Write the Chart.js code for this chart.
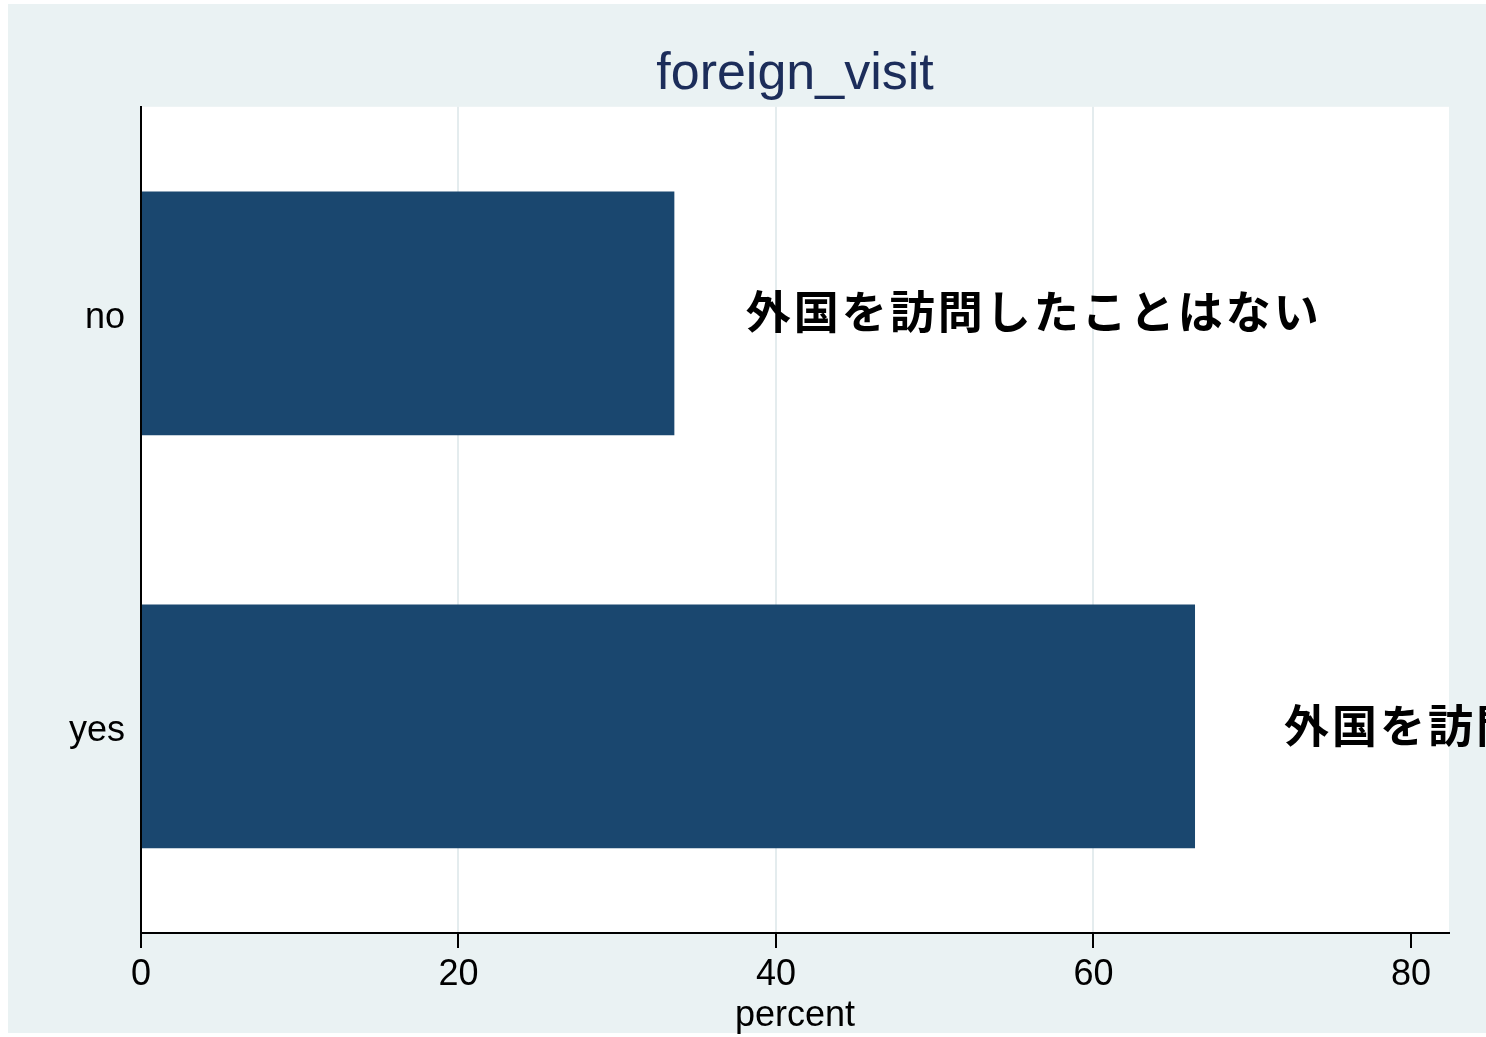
<!DOCTYPE html>
<html>
<head>
<meta charset="utf-8">
<script src="https://cdn.jsdelivr.net/npm/chart.js@4.4.1/dist/chart.umd.min.js"></script>
<style>
  html, body { margin: 0; padding: 0; background: #fff; }
  canvas { display: block; }
</style>
</head>
<body>
<canvas id="barChart" width="1486" height="1037"></canvas>
<script>
// data
var categories = ['no', 'yes'];
var percentValues = [33.6, 66.4];
var tickValues = [0, 20, 40, 60, 80];
var noteTexts = ['外国を訪問したことはない', '外国を訪問したことがある'];
var noteAt = [38.1, 72.0];

var bgColor = '#eaf2f3';
var gridColor = '#e4ecee';

var backgroundPlugin = {
  id: 'background',
  beforeDraw: function(chart) {
    var ctx = chart.ctx;
    var a = chart.chartArea;
    ctx.save();
    ctx.fillStyle = '#ffffff';
    ctx.fillRect(0, 0, chart.width, chart.height);
    ctx.fillStyle = bgColor;
    ctx.fillRect(8, 4, chart.width - 8, chart.height - 8);
    ctx.fillStyle = '#ffffff';
    ctx.fillRect(a.left, a.top, a.right - a.left, a.bottom - a.top);
    ctx.restore();
  }
};

var notePlugin = {
  id: 'notes',
  afterDatasetsDraw: function(chart) {
    var ctx = chart.ctx;
    var meta = chart.getDatasetMeta(0);
    var xScale = chart.scales.x;
    ctx.save();
    ctx.font = 'bold 45px "Noto Sans CJK JP"';
    ctx.letterSpacing = '3px';
    ctx.fillStyle = '#000000';
    ctx.textAlign = 'left';
    ctx.textBaseline = 'middle';
    meta.data.forEach(function(bar, i) {
      ctx.fillText(noteTexts[i], xScale.getPixelForValue(noteAt[i]), bar.y - 1);
    });
    ctx.restore();
  }
};

var ctx = document.getElementById('barChart').getContext('2d');

var barChart = new Chart(ctx, {
  type: 'bar',
  data: {
    labels: categories,
    datasets: [{
      label: 'percent',
      data: percentValues,
      backgroundColor: '#1a476f',
      borderWidth: 0,
      categoryPercentage: 1.0,
      barPercentage: 0.59
    }]
  },
  options: {
    indexAxis: 'y',
    responsive: false,
    animation: false,
    devicePixelRatio: 1,
    layout: {
      padding: { left: 8, top: 4, right: 37, bottom: 4 }
    },
    plugins: {
      legend: { display: false },
      tooltip: { enabled: false },
      title: {
        display: true,
        text: 'foreign_visit',
        fullSize: false,
        color: '#1c2d5a',
        font: { family: '"Liberation Sans", Arial, sans-serif', size: 52, weight: 'normal', lineHeight: 1.15 },
        padding: { top: 41, bottom: 2 }
      }
    },
    scales: {
      x: {
        type: 'linear',
        min: 0,
        max: 82.4,
        afterFit: function(scale) { scale.height = 100; },
        afterBuildTicks: function(scale) {
          scale.ticks = tickValues.map(function(v) { return { value: v }; });
        },
        ticks: {
          stepSize: 20,
          includeBounds: false,
          color: '#000000',
          padding: 5,
          maxRotation: 0,
          font: { family: '"Liberation Sans", Arial, sans-serif', size: 36 }
        },
        grid: {
          lineWidth: 2,
          tickWidth: 2,
          tickLength: 15,
          tickColor: '#000000',
          color: function(c) {
            if (c.tick && c.tick.value > 0 && c.tick.value < 80) return gridColor;
            return 'rgba(0,0,0,0)';
          }
        },
        border: { display: true, color: '#000000', width: 2 },
        title: {
          display: true,
          text: 'percent',
          color: '#000000',
          padding: { top: 0, bottom: 1 },
          font: { family: '"Liberation Sans", Arial, sans-serif', size: 36, lineHeight: 0.9 }
        }
      },
      y: {
        afterFit: function(scale) { scale.width = 133; },
        ticks: {
          color: '#000000',
          padding: 16,
          labelOffset: 5,
          font: { family: '"Liberation Sans", Arial, sans-serif', size: 36 }
        },
        grid: { display: false, drawTicks: false },
        border: { display: true, color: '#000000', width: 2 }
      }
    }
  },
  plugins: [backgroundPlugin, notePlugin]
});
</script>
</body>
</html>
